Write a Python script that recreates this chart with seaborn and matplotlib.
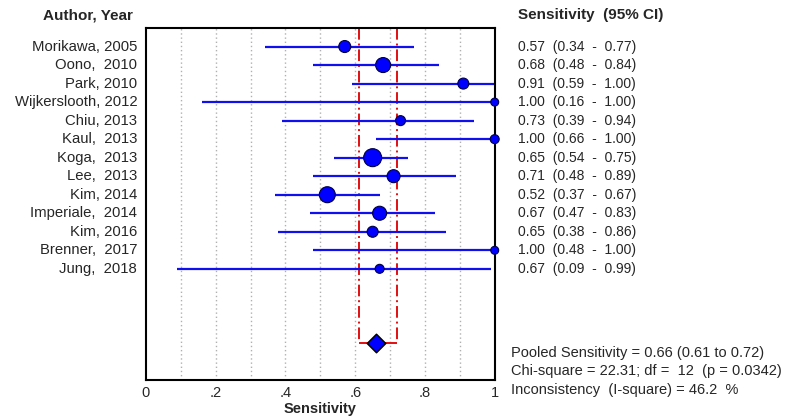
import matplotlib
matplotlib.use("Agg")
import matplotlib.pyplot as plt
import seaborn as sns
import pandas as pd
import numpy as np

studies = ["Morikawa, 2005", "Oono,  2010", "Park, 2010", "Wijkerslooth, 2012", "Chiu, 2013",
           "Kaul,  2013", "Koga,  2013", "Lee,  2013", "Kim, 2014", "Imperiale,  2014",
           "Kim, 2016", "Brenner,  2017", "Jung,  2018"]
sens = [0.57, 0.68, 0.91, 1.00, 0.73, 1.00, 0.65, 0.71, 0.52, 0.67, 0.65, 1.00, 0.67]
lower = [0.34, 0.48, 0.59, 0.16, 0.39, 0.66, 0.54, 0.48, 0.37, 0.47, 0.38, 0.48, 0.09]
upper = [0.77, 0.84, 1.00, 1.00, 0.94, 1.00, 0.75, 0.89, 0.67, 0.83, 0.86, 1.00, 0.99]
weights = [144, 225, 121, 64, 100, 81, 324, 169, 256, 196, 121, 64, 81]
pooled, pooled_lo, pooled_hi = 0.66, 0.61, 0.72
stats_lines = ["Pooled Sensitivity = 0.66 (0.61 to 0.72)",
               "Chi-square = 22.31; df =  12  (p = 0.0342)",
               "Inconsistency  (I-square) = 46.2  %"]
xticks = [0, 0.2, 0.4, 0.6, 0.8, 1.0]
xticklabels = ["0", ".2", ".4", ".6", ".8", "1"]

sns.set_style("white")
plt.rcParams['font.family'] = ['Liberation Sans', 'DejaVu Sans']

df = pd.DataFrame({"study": studies, "sens": sens, "lo": lower, "hi": upper,
                   "w": weights, "row": np.arange(len(studies))})

fig = plt.figure(figsize=(7.89, 4.18), dpi=100)
ax = fig.add_axes([0.185, 0.091, 0.442, 0.842])

for g in np.arange(0.1, 1.0, 0.1):
    ax.axvline(g, color="#b0b0b0", lw=1, ls=(0, (1, 2)), zorder=0)

pooled_row = 16
ax.vlines([pooled_lo, pooled_hi], -1, pooled_row, color="#e01010", lw=1.4,
          ls=(0, (6, 2, 1, 2)), zorder=1)
ax.hlines(pooled_row, pooled_lo, pooled_hi, color="#e01010", lw=1.4, zorder=1)

ax.hlines(df["row"], df["lo"], df["hi"], color="#1010ee", lw=1.6, zorder=2)
sns.scatterplot(data=df, x="sens", y="row", size="w", sizes=(33, 168),
                color="#0000ff", edgecolor="#000040", linewidth=0.8,
                legend=False, ax=ax, zorder=3, clip_on=False)
ax.scatter([pooled], [pooled_row], marker="D", s=90, color="#0000ff",
           edgecolor="black", linewidth=1.0, zorder=4)

ax.set_xlim(0, 1)
ax.set_ylim(18, -1)
ax.set_xticks(xticks)
ax.set_xticklabels(xticklabels, fontsize=10.5)
ax.set_yticks([])
ax.set_ylabel("")
ax.set_xlabel("Sensitivity", fontsize=10.5, fontweight="bold", labelpad=2)
ax.tick_params(axis="x", length=0, pad=4)
for s in ax.spines.values():
    s.set_color("black")
    s.set_linewidth(1.5)

for r, name in enumerate(studies):
    ax.text(-0.025, r, name, ha="right", va="center", fontsize=10.7,
            transform=ax.get_yaxis_transform())
    ax.text(1.066, r, f"{sens[r]:.2f}  ({lower[r]:.2f}  -  {upper[r]:.2f})",
            ha="left", va="center", fontsize=10, transform=ax.get_yaxis_transform())

fig.text(133 / 789, 1 - 15 / 418, "Author, Year", ha="right", va="center",
         fontsize=11, fontweight="bold")
fig.text(518 / 789, 1 - 15 / 418, "Sensitivity  (95% CI)", ha="left", va="center",
         fontsize=11, fontweight="bold")
for i, line in enumerate(stats_lines):
    fig.text(511 / 789, 1 - (353 + i * 18.5) / 418, line, ha="left", va="center",
             fontsize=10.5)

fig.savefig("out.png", dpi=100, facecolor="white")
